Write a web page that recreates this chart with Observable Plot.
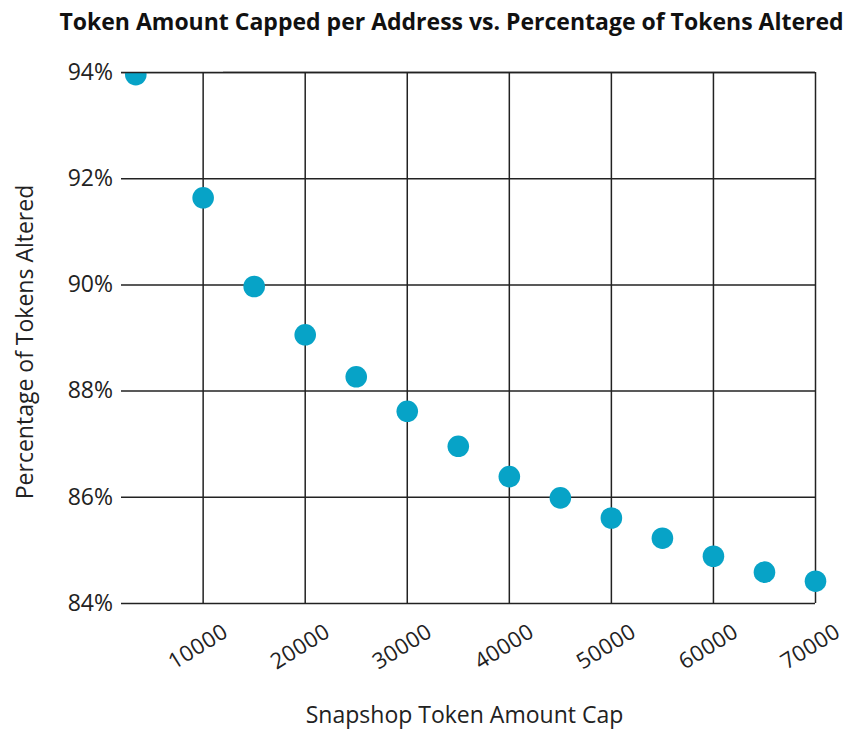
<!DOCTYPE html>
<html>
<head>
<meta charset="utf-8">
<script src="https://cdn.jsdelivr.net/npm/d3@7"></script>
<script src="https://cdn.jsdelivr.net/npm/@observablehq/plot@0.6"></script>
<style>
  body { margin: 0; background: #fff; }
  #chart { width: 855px; height: 730px; }
  #chart g[aria-label="title"] text { letter-spacing: 0.28px; }
  #chart g[aria-label="x-label"] text { letter-spacing: 0.78px; }
  #chart g[aria-label="y-label"] text { letter-spacing: 0.35px; }
  #chart g[aria-label="x-axis tick label"] text { letter-spacing: 0.4px; }
</style>
</head>
<body>
<div id="chart"></div>
<script>
const title = "Token Amount Capped per Address vs. Percentage of Tokens Altered";
const xLabel = "Snapshop Token Amount Cap";
const yLabel = "Percentage of Tokens Altered";
const caps = [3400, 10000, 15000, 20000, 25000, 30000, 35000, 40000, 45000, 50000, 55000, 60000, 65000, 70000];
const altered = [93.96, 91.64, 89.97, 89.06, 88.27, 87.62, 86.96, 86.39, 85.99, 85.61, 85.23, 84.89, 84.59, 84.42];
const xTicks = [10000, 20000, 30000, 40000, 50000, 60000, 70000];
const yTicks = [84, 86, 88, 90, 92, 94];

const data = caps.map((c, i) => ({cap: c, pct: altered[i]}));
const xDomain = [2000, 70000];
const yDomain = [84, 94];

const chart = Plot.plot({
  width: 855,
  height: 730,
  marginTop: 72,
  marginLeft: 121,
  marginRight: 40,
  marginBottom: 127,
  style: {fontFamily: "'Open Sans', sans-serif", background: "#fff"},
  x: {domain: xDomain},
  y: {domain: yDomain},
  marks: [
    Plot.gridX(xTicks, {stroke: "#222", strokeOpacity: 1, strokeWidth: 1.5}),
    Plot.gridY(yTicks, {stroke: "#222", strokeOpacity: 1, strokeWidth: 1.5}),
    Plot.dot(data, {x: "cap", y: "pct", r: 10.8, fill: "#07a3c7", stroke: "none"}),
    // white band above the frame hides the part of the dots that overflow the top
    Plot.rect([0], {x1: () => xDomain[0] - 5000, x2: () => xDomain[0] + 10000, y1: () => yDomain[1], y2: () => yDomain[1] + 1, fill: "#fff", clip: false}),
    Plot.gridY([yDomain[1]], {stroke: "#222", strokeOpacity: 1, strokeWidth: 1.5}),
    Plot.axisY(yTicks, {tickSize: 0, tickPadding: 8.5, fontSize: 23, fill: "#222", tickFormat: d => d + "%", label: null}),
    Plot.axisX(xTicks, {tickSize: 0, tickRotate: -32, textAnchor: "middle", dx: -5, dy: 31, fontSize: 22, fill: "#222", tickFormat: d => String(d), label: null}),
    Plot.text([title], {ariaLabel: "title", frameAnchor: "top", lineAnchor: "middle", textAnchor: "middle", dx: -17, dy: -50, fontSize: 23, fontWeight: "bold", fill: "#111"}),
    Plot.text([xLabel], {ariaLabel: "x-label", frameAnchor: "bottom", lineAnchor: "middle", textAnchor: "middle", dx: -4, dy: 112, fontSize: 23, fill: "#222"}),
    Plot.text([yLabel], {ariaLabel: "y-label", frameAnchor: "left", lineAnchor: "middle", textAnchor: "middle", dx: -96, dy: 4, rotate: -90, fontSize: 23, fill: "#222"})
  ]
});
document.getElementById("chart").appendChild(chart);
</script>
</body>
</html>
